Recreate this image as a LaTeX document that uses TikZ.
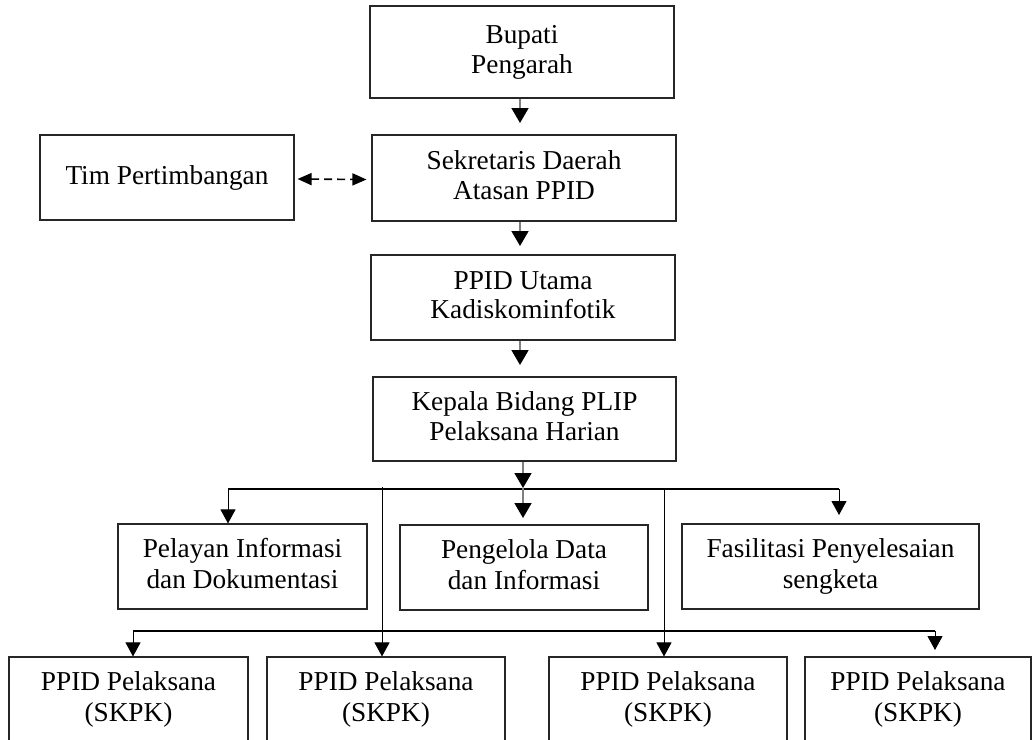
\documentclass[tikz,border=0pt]{standalone}
\usepackage{fontspec}
\setmainfont{Liberation Serif}
\usetikzlibrary{arrows.meta,calc}
\newcommand\lstrut{\rule[-6pt]{0pt}{25pt}}
\newcommand\topfont{\fontsize{27.3}{29.5}\selectfont}
\newcommand\lowfont{\fontsize{27.3}{31.5}\selectfont}
\tikzset{
  boxbase/.style={draw=black!85, line width=1.1pt, inner sep=0pt, align=center},
  topbox/.style={boxbase, font=\topfont},
  lowbox/.style={boxbase, font=\lowfont},
  garrow/.style={draw=black!50, line width=1.6pt, -{Triangle[width=17pt,length=15pt,color=black,fill=black]}},
  karrow/.style={draw=black, line width=1pt, -{Triangle[width=15pt,length=14pt,color=black,fill=black]}},
  hline/.style={draw=black, line width=1.2pt},
  darrow/.style={draw=black, line width=1.6pt, dash pattern=on 8pt off 5pt,
     {Triangle[width=12pt,length=14pt,color=black,fill=black]}-{Triangle[width=12pt,length=14pt,color=black,fill=black]}}
}
\begin{document}
\lineskiplimit=-100pt
\lineskip=0pt
\begin{tikzpicture}[x=1pt,y=-1pt]
\useasboundingbox (0,0) rectangle (1032,739);
\clip (0,0) rectangle (1032,739);
% main column
\node[topbox, minimum width=304pt, minimum height=92pt] (bupati) at (522,52) {\lstrut Bupati\\\lstrut Pengarah};
\node[topbox, minimum width=304pt, minimum height=86pt] (sekda) at (524,178) {\lstrut Sekretaris Daerah\\\lstrut Atasan PPID};
\node[topbox, minimum width=254pt, minimum height=85pt] (tim) at (167,177.5) {\lstrut Tim Pertimbangan};
\node[topbox, minimum width=304pt, minimum height=85pt] (utama) at (523,297.5) {\lstrut PPID Utama\\\lstrut Kadiskominfotik};
\node[topbox, minimum width=303pt, minimum height=84pt] (kepala) at (524.5,419) {\lstrut Kepala Bidang PLIP\\\lstrut Pelaksana Harian};
% middle row
\node[lowbox, minimum width=249pt, minimum height=85pt] (pelayan) at (242.5,566.5) {\lstrut Pelayan Informasi\\\lstrut dan Dokumentasi};
\node[lowbox, minimum width=248pt, minimum height=85pt] (pengelola) at (524,567.5) {\lstrut Pengelola Data\\\lstrut dan Informasi};
\node[lowbox, minimum width=297pt, minimum height=85pt] (fasil) at (830.5,566.5) {\lstrut Fasilitasi Penyelesaian\\\lstrut sengketa};
% bottom row
\node[lowbox, minimum width=239pt, minimum height=85pt] (p1) at (128.5,699.5) {\lstrut PPID Pelaksana\\\lstrut (SKPK)};
\node[lowbox, minimum width=238pt, minimum height=85pt] (p2) at (386,699.5) {\lstrut PPID Pelaksana\\\lstrut (SKPK)};
\node[lowbox, minimum width=238pt, minimum height=85pt] (p3) at (668,699.5) {\lstrut PPID Pelaksana\\\lstrut (SKPK)};
\node[lowbox, minimum width=226pt, minimum height=85pt] (p4) at (918,699.5) {\lstrut PPID Pelaksana\\\lstrut (SKPK)};
% coordinates
\coordinate (a1) at (520,123);
\coordinate (a2) at (520,246);
\coordinate (a3) at (520,365);
\coordinate (j) at (523,488);
\coordinate (hL) at (228,489);
\coordinate (hR) at (839,489);
\coordinate (pg) at (523,518);
\coordinate (fr) at (839,515);
\coordinate (l1) at (382,487);
\coordinate (l2) at (664,488);
\coordinate (bL) at (133,631);
\coordinate (bR) at (935,631);
\coordinate (b4) at (935,650);
\coordinate (d1) at ([xshift=3pt,yshift=-1.5pt]tim.east);
\coordinate (d2) at ([xshift=-5pt,yshift=-1.5pt]sekda.west);
% connectors
\draw[garrow] (bupati.south -| a1) -- (a1);
\draw[garrow] (sekda.south -| a2) -- (a2);
\draw[garrow] (utama.south -| a3) -- (a3);
\draw[garrow] (kepala.south -| j) -- (j);
\draw[hline] (hL) -- (hR);
\draw[garrow] (j) -- (pg);
\draw[karrow] (hL) -- (pelayan.north -| hL);
\draw[karrow] (hR) -- (fr);
\draw[karrow] (l1) -- (p2.north -| l1);
\draw[karrow] (l2) -- (p3.north -| l2);
\draw[hline] (bL) -- (bR);
\draw[karrow] (bL) -- (p1.north -| bL);
\draw[karrow] (bR) -- (b4);
\draw[darrow] (d1) -- (d2);
\end{tikzpicture}
\end{document}
